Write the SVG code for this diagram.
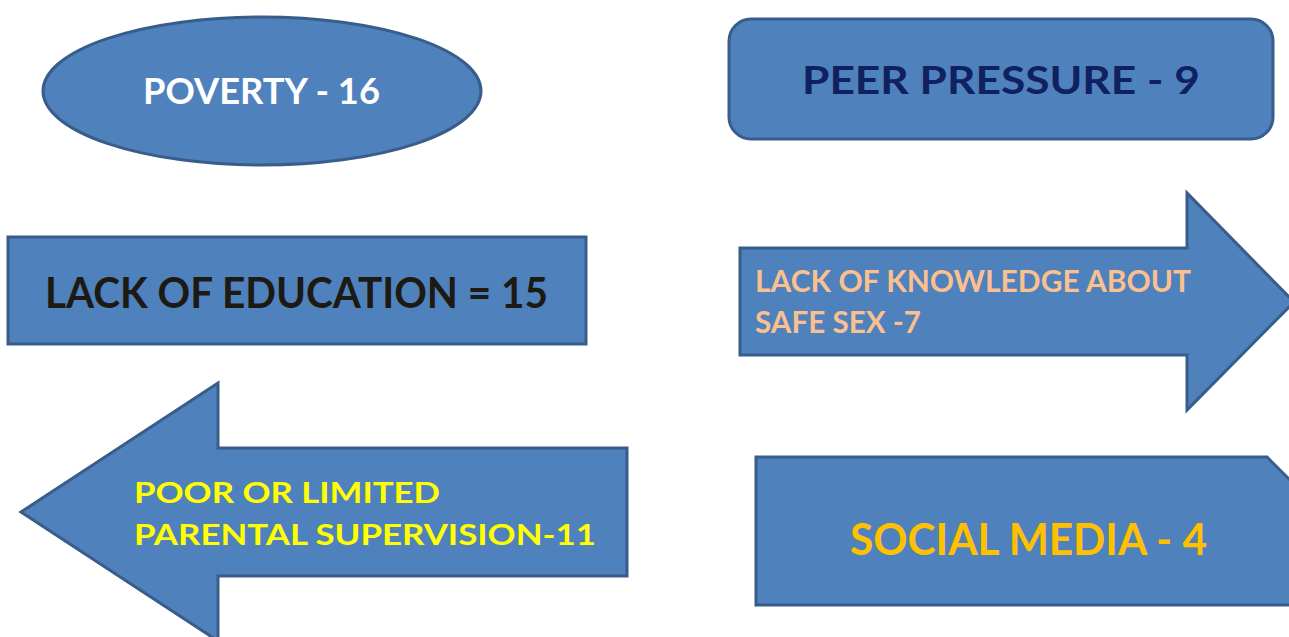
<svg xmlns="http://www.w3.org/2000/svg" width="1289" height="637" viewBox="0 0 1289 637">
  <style>
    .shape { fill: #4f81bd; stroke: #385d8a; stroke-width: 3; stroke-linejoin: miter; }
    .lbl { font-family: Lato, "Liberation Sans", sans-serif; font-weight: bold; }
  </style>
  <rect width="1289" height="637" fill="#ffffff"/>

  <g id="poverty">
    <ellipse class="shape" cx="262" cy="91" rx="219" ry="74" stroke-width="3.5"/>
    <text class="lbl" x="143" y="104" font-size="36" fill="#ffffff" textLength="237" lengthAdjust="spacingAndGlyphs">POVERTY - 16</text>
  </g>

  <g id="peer-pressure">
    <rect class="shape" x="729" y="19" width="544" height="120" rx="22" ry="22"/>
    <text class="lbl" x="802" y="94" font-size="38" fill="#0f2160" textLength="398" lengthAdjust="spacingAndGlyphs">PEER PRESSURE - 9</text>
  </g>

  <g id="lack-of-education">
    <rect class="shape" x="8" y="237" width="578" height="107"/>
    <text class="lbl" x="45" y="308" font-size="42" fill="#1c1a12" textLength="503" lengthAdjust="spacingAndGlyphs">LACK OF EDUCATION = 15</text>
  </g>

  <g id="safe-sex-knowledge">
    <polygon class="shape" points="740,248 1187,248 1187,193 1294,302 1187,410 1187,355 740,355"/>
    <text class="lbl" font-size="31" fill="#fac090">
      <tspan x="755" y="292" textLength="435" lengthAdjust="spacingAndGlyphs">LACK OF KNOWLEDGE ABOUT</tspan>
      <tspan x="755" y="333" textLength="166" lengthAdjust="spacingAndGlyphs">SAFE SEX -7</tspan>
    </text>
  </g>

  <g id="parental-supervision">
    <polygon class="shape" points="627,448 218,448 218,383 21,512 218,641 218,576 627,576"/>
    <text class="lbl" font-size="29" fill="#ffff00">
      <tspan x="134" y="503" textLength="306" lengthAdjust="spacingAndGlyphs">POOR OR LIMITED</tspan>
      <tspan x="134" y="545" textLength="462" lengthAdjust="spacingAndGlyphs">PARENTAL SUPERVISION-11</tspan>
    </text>
  </g>

  <g id="social-media">
    <!-- rectangle with its top-right corner snipped -->
    <polygon class="shape" points="756,457 1267,457 1312,502 1312,605 756,605"/>
    <text class="lbl" x="850" y="555" font-size="43" fill="#ffc000" textLength="357" lengthAdjust="spacingAndGlyphs">SOCIAL MEDIA - 4</text>
  </g>

  <g id="connectors"></g>
</svg>
